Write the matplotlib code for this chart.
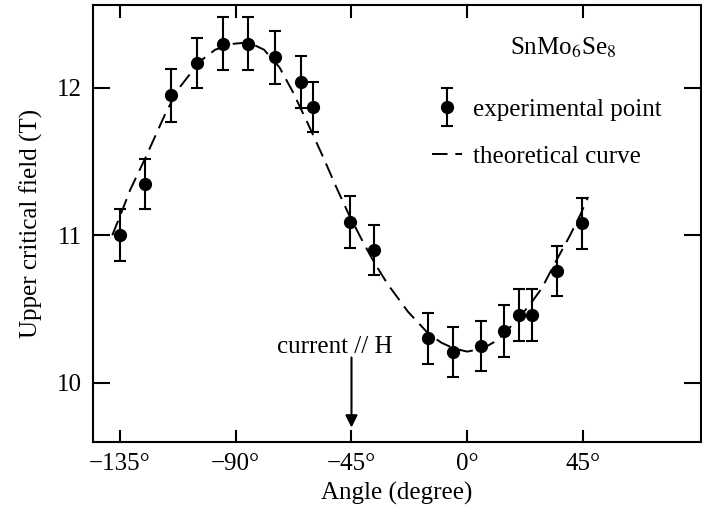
import matplotlib
matplotlib.use("Agg")

import matplotlib.pyplot as plt
from matplotlib.container import ErrorbarContainer
from matplotlib.legend_handler import HandlerErrorbar

plt.rcParams['font.family'] = ['Liberation Serif', 'DejaVu Serif']
plt.rcParams['mathtext.fontset'] = 'stix'

# measured points (angle in degrees, field in T)
angles = [-135, -125.3, -115.2, -104.9, -94.8, -85.1, -74.9, -64.7, -60.1, -45.6,
          -36.4, -15.2, -5.4, 5.2, 14.4, 20.1, 25.2, 34.9, 44.6]
field = [11.00, 11.35, 11.95, 12.17, 12.30, 12.30, 12.21, 12.04, 11.87, 11.09,
         10.90, 10.30, 10.21, 10.25, 10.35, 10.46, 10.46, 10.76, 11.08]
errs = [0.175, 0.17, 0.18, 0.17, 0.18, 0.18, 0.18, 0.175, 0.17, 0.175,
        0.17, 0.175, 0.17, 0.17, 0.175, 0.175, 0.175, 0.17, 0.175]

# theoretical curve
curve_x = [-138, -135, -131, -125, -117, -112, -104, -98, -91, -85, -79, -73, -68,
           -62, -56, -51, -46, -41, -36, -31, -23, -15, -10, -5, 0, 6, 12, 18,
           24, 29, 35, 40, 44, 47]
curve_y = [11.00, 11.13, 11.31, 11.53, 11.84, 12.00, 12.18, 12.26, 12.30, 12.31,
           12.26, 12.14, 11.98, 11.76, 11.53, 11.33, 11.14, 10.97, 10.81, 10.67,
           10.48, 10.33, 10.27, 10.23, 10.21, 10.23, 10.29, 10.40, 10.52, 10.64,
           10.84, 11.00, 11.14, 11.26]

xticks = [-135, -90, -45, 0, 45]
xticklabels = ['\u2212135\u00b0', '\u221290\u00b0', '\u221245\u00b0', '0\u00b0', '45\u00b0']
yticks = [10, 11, 12]

fs = 18

fig = plt.figure(figsize=(7.02, 5.14), dpi=100)
ax = fig.add_axes([93/702, 72/514, 607.5/702, 437.5/514])

ax.plot(curve_x, curve_y, color='black', lw=1.4, dashes=(8, 4),
        label='theoretical curve', zorder=2)
ax.errorbar(angles, field, yerr=errs, fmt='o', color='black', ms=8.5,
            capsize=4.5, elinewidth=1.5, capthick=1.5,
            label='experimental point', zorder=3)

ax.set_xlim(-145.5, 90.7)
ax.set_ylim(9.596, 12.567)
ax.set_xticks(xticks)
ax.set_xticklabels(xticklabels)
ax.set_yticks(yticks)

ax.tick_params(axis='both', direction='in', top=True, right=True,
               labelsize=fs, width=1.5)
ax.tick_params(axis='x', length=9, pad=8)
ax.tick_params(axis='y', length=12, pad=8)
for s in ax.spines.values():
    s.set_linewidth(1.5)

ax.set_xlabel('Angle (degree)', fontsize=fs, labelpad=5)
ax.set_ylabel('Upper critical field (T)', fontsize=fs, labelpad=10)

# compound name
ax.text(37.4, 12.224, 'SnMo$_6$Se$_8$', fontsize=fs, ha='center', va='baseline')

handles, labels = ax.get_legend_handles_labels()
leg = ax.legend(handles[::-1], labels[::-1], loc='upper left',
                bbox_to_anchor=(0.5576, 0.786), frameon=False, fontsize=fs,
                borderpad=0, borderaxespad=0, handlelength=1.2,
                handletextpad=0.45, labelspacing=1.0,
                handler_map={ErrorbarContainer: HandlerErrorbar(yerr_size=0.75)})

# current // H marker
ax.annotate('', xy=(-45, 9.694), xytext=(-45, 10.17),
            arrowprops=dict(arrowstyle='-|>', color='black', lw=1.5,
                            mutation_scale=18, shrinkA=0, shrinkB=0))
ax.text(-51.3, 10.197, 'current // H', fontsize=fs, ha='center', va='baseline')

fig.savefig('out.png', dpi=100)
